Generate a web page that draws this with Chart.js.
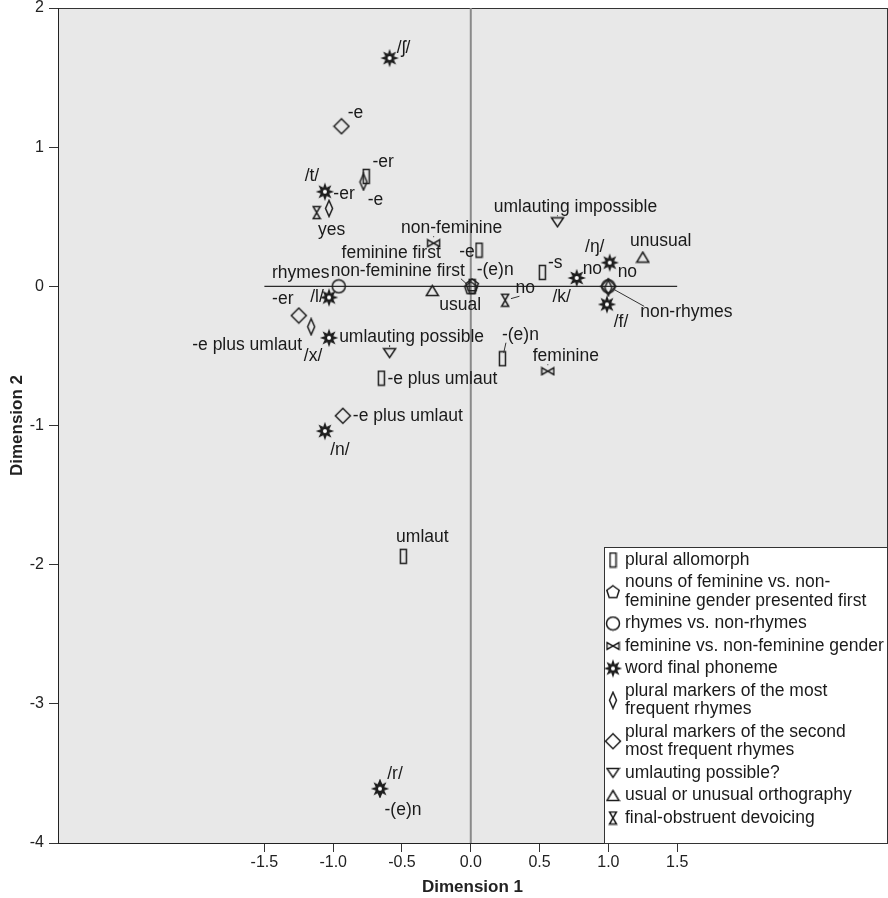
<!DOCTYPE html>
<html>
<head>
<meta charset="utf-8">
<script src="https://cdn.jsdelivr.net/npm/chart.js@4.4.0/dist/chart.umd.min.js"></script>
<style>
html, body { margin: 0; padding: 0; background: #fff; }
</style>
</head>
<body>
<canvas id="chart" width="888" height="898"></canvas>
<script>
var xTicks = [-1.5, -1.0, -0.5, 0.0, 0.5, 1.0, 1.5];
var yTicks = [-4, -3, -2, -1, 0, 1, 2];

// plural allomorph
var allomorphX = [-0.76, 0.06, 0.01, 0.52, 0.23, -0.65, -0.49];
var allomorphY = [0.79, 0.26, 0.00, 0.10, -0.52, -0.66, -1.94];
var allomorphLabels = ['-er', '-e', '-(e)n', '-s', '-(e)n', '-e plus umlaut', 'umlaut'];

// nouns of feminine vs. non-feminine gender presented first
var firstX = [0.01, 0.00];
var firstY = [0.01, -0.01];
var firstLabels = ['feminine first', 'non-feminine first'];

// rhymes vs. non-rhymes
var rhymesX = [-0.96, 1.00];
var rhymesY = [0.00, 0.00];
var rhymesLabels = ['rhymes', 'non-rhymes'];

// feminine vs. non-feminine gender
var genderX = [-0.27, 0.56];
var genderY = [0.31, -0.61];
var genderLabels = ['non-feminine', 'feminine'];

// word final phoneme
var phonemeX = [-0.59, -1.06, -1.03, -1.03, -1.06, -0.66, 0.77, 1.01, 0.99];
var phonemeY = [1.64, 0.68, -0.08, -0.37, -1.04, -3.61, 0.06, 0.17, -0.13];
var phonemeLabels = ['/ʃ/', '/t/', '/l/', '/x/', '/n/', '/r/', '/k/', '/ŋ/', '/f/'];

// plural markers of the most frequent rhymes
var mostX = [-0.78, -1.03, -1.16, 1.00, -0.66];
var mostY = [0.75, 0.56, -0.29, -0.01, -3.61];
var mostLabels = ['-e', '-er', '-e plus umlaut', 'no', '-(e)n'];

// plural markers of the second most frequent rhymes
var secondX = [-0.94, -1.25, -0.93, 1.00];
var secondY = [1.15, -0.21, -0.93, 0.00];
var secondLabels = ['-e', '-er', '-e plus umlaut', 'no'];

// umlauting possible?
var umlautX = [-0.59, 0.63];
var umlautY = [-0.48, 0.46];
var umlautLabels = ['umlauting possible', 'umlauting impossible'];

// usual or unusual orthography
var orthoX = [-0.28, 1.25];
var orthoY = [-0.03, 0.21];
var orthoLabels = ['usual', 'unusual'];

// final-obstruent devoicing
var devoiceX = [-1.12, 0.25];
var devoiceY = [0.53, -0.10];
var devoiceLabels = ['yes', 'no'];

// label placement (pixel offset of label centre from point, 1 = leader line)
var allomorphPos = [[17, -14], [-12, 2], [23, -16], [13, -9], [18, -24, 1], [61, 1], [19, -19]];
var firstPos = [[-81, -32], [-73, -17, 1]];
var rhymesPos = [[-38, -13], [78, 26, 1]];
var genderPos = [[18, -15, 1], [18, -15, 1]];
var phonemePos = [[14, -10], [-13, -16], [-12, 0], [-16, 18], [15, 19], [15, -15], [-15, 19], [-15, -16], [14, 18]];
var mostPos = [[12, 18], [15, -14], [-64, 18], [-16, -19], [23, 21]];
var secondPos = [[14, -13], [-16, -16], [65, 0], [19, -14]];
var umlautPos = [[22, -16, 1], [18, -15, 1]];
var orthoPos = [[28, 15], [18, -16]];
var devoicePos = [[15, 18], [20, -12, 1]];

var FONT = '"Liberation Sans", Arial, sans-serif';

function icon(w, h, draw) {
  var c = document.createElement('canvas');
  c.width = w;
  c.height = h;
  var g = c.getContext('2d');
  g.strokeStyle = '#1e1e1e';
  g.fillStyle = '#1e1e1e';
  g.lineWidth = 1.5;
  draw(g);
  return c;
}

function poly(g, p, fill) {
  g.beginPath();
  g.moveTo(p[0][0], p[0][1]);
  for (var i = 1; i < p.length; i++) g.lineTo(p[i][0], p[i][1]);
  g.closePath();
  if (fill) g.fill(); else g.stroke();
}

var rectIcon = icon(9, 17, function(g) { g.strokeRect(1.5, 1.5, 6, 14); });
var pentIcon = icon(16, 16, function(g) {
  var p = [];
  for (var k = 0; k < 5; k++) {
    var a = -Math.PI / 2 + k * 2 * Math.PI / 5;
    p.push([8 + 6.5 * Math.cos(a), 8.5 + 6.5 * Math.sin(a)]);
  }
  poly(g, p);
});
var circleIcon = icon(16, 16, function(g) {
  g.beginPath(); g.arc(8, 8, 6.5, 0, 2 * Math.PI); g.stroke();
});
var bowIcon = icon(15, 10, function(g) {
  poly(g, [[1.5, 1.5], [1.5, 8.5], [7.5, 5]]);
  poly(g, [[13.5, 1.5], [13.5, 8.5], [7.5, 5]]);
});
var starIcon = icon(20, 20, function(g) {
  var p = [];
  for (var k = 0; k < 16; k++) {
    var a = k * Math.PI / 8 - Math.PI / 2;
    var r = k % 2 ? 4.6 : 9.2;
    p.push([10 + r * Math.cos(a), 10 + r * Math.sin(a)]);
  }
  poly(g, p, true);
  g.fillStyle = '#fff';
  g.beginPath(); g.arc(10, 10, 2, 0, 2 * Math.PI); g.fill();
});
var narrowIcon = icon(10, 19, function(g) { poly(g, [[5, 1.5], [8.5, 9.5], [5, 17.5], [1.5, 9.5]]); });
var diamondIcon = icon(18, 18, function(g) { poly(g, [[9, 1.5], [16.5, 9], [9, 16.5], [1.5, 9]]); });
var invTriIcon = icon(15, 12, function(g) { poly(g, [[1.5, 1.5], [13.5, 1.5], [7.5, 10.5]]); });
var triIcon = icon(15, 13, function(g) { poly(g, [[7.5, 1.5], [13.5, 11.5], [1.5, 11.5]]); });
var hourIcon = icon(10, 15, function(g) {
  poly(g, [[1.5, 1.5], [8.5, 1.5], [5, 7.5]]);
  poly(g, [[1.5, 13.5], [8.5, 13.5], [5, 7.5]]);
});

var legendItems = [
  [rectIcon, ['plural allomorph']],
  [pentIcon, ['nouns of feminine vs. non-', 'feminine gender presented first']],
  [circleIcon, ['rhymes vs. non-rhymes']],
  [bowIcon, ['feminine vs. non-feminine gender']],
  [starIcon, ['word final phoneme']],
  [narrowIcon, ['plural markers of the most', 'frequent rhymes']],
  [diamondIcon, ['plural markers of the second', 'most frequent rhymes']],
  [invTriIcon, ['umlauting possible?']],
  [triIcon, ['usual or unusual orthography']],
  [hourIcon, ['final-obstruent devoicing']]
];

function pts(xs, ys) {
  return xs.map(function(x, i) { return { x: x, y: ys[i] }; });
}

function series(xs, ys, labels, pos, style) {
  return {
    data: pts(xs, ys),
    pointLabels: labels,
    labelPos: pos,
    pointStyle: style,
    pointRadius: 6,
    order: 0
  };
}

var bgPlugin = {
  id: 'plotBg',
  beforeDraw: function(chart) {
    var ctx = chart.ctx, a = chart.chartArea;
    ctx.save();
    ctx.fillStyle = '#fff';
    ctx.fillRect(0, 0, chart.width, chart.height);
    ctx.fillStyle = '#e8e8e8';
    ctx.fillRect(a.left, a.top, a.right - a.left, a.bottom - a.top);
    ctx.strokeStyle = '#333';
    ctx.lineWidth = 1;
    ctx.strokeRect(a.left + 0.5, a.top + 0.5, a.right - a.left, a.bottom - a.top);
    ctx.restore();
  }
};

var labelPlugin = {
  id: 'pointLabels',
  afterDatasetsDraw: function(chart) {
    var ctx = chart.ctx;
    ctx.save();
    ctx.font = '17.5px ' + FONT;
    ctx.fillStyle = '#1a1a1a';
    ctx.strokeStyle = '#333';
    ctx.lineWidth = 1;
    ctx.textAlign = 'center';
    ctx.textBaseline = 'middle';
    chart.data.datasets.forEach(function(ds, i) {
      if (!ds.pointLabels) return;
      var meta = chart.getDatasetMeta(i);
      meta.data.forEach(function(pt, j) {
        var off = ds.labelPos[j];
        var text = ds.pointLabels[j];
        var lx = pt.x + off[0], ly = pt.y + off[1];
        ctx.fillText(text, lx, ly);
        if (off[2]) {
          var hw = ctx.measureText(text).width / 2;
          var bx = Math.max(lx - hw + 4, Math.min(pt.x, lx + hw - 4));
          var by = Math.max(ly - 6, Math.min(pt.y, ly + 8));
          var dx = bx - pt.x, dy = by - pt.y;
          var d = Math.sqrt(dx * dx + dy * dy) || 1;
          ctx.beginPath();
          ctx.moveTo(pt.x + dx / d * 6, pt.y + dy / d * 6);
          ctx.lineTo(bx, by);
          ctx.stroke();
        }
      });
    });
    ctx.restore();
  }
};

var legendPlugin = {
  id: 'boxLegend',
  afterDraw: function(chart) {
    var ctx = chart.ctx, a = chart.chartArea;
    var left = 604, top = 547;
    ctx.save();
    ctx.fillStyle = '#fff';
    ctx.fillRect(left, top, a.right - left, a.bottom - top);
    ctx.strokeStyle = '#333';
    ctx.lineWidth = 1;
    ctx.strokeRect(left + 0.5, top + 0.5, a.right - left, a.bottom - top);
    ctx.font = '17.5px ' + FONT;
    ctx.fillStyle = '#1a1a1a';
    ctx.textBaseline = 'middle';
    ctx.textAlign = 'left';
    var y = 560;
    legendItems.forEach(function(item) {
      var lines = item[1];
      var iconY = y + (lines.length - 1) * 18.5 / 2;
      ctx.drawImage(item[0], 613 - item[0].width / 2, iconY - item[0].height / 2);
      lines.forEach(function(t, k) {
        ctx.fillText(t, 625, y + k * 18.5);
      });
      y += (lines.length - 1) * 18.5 + 22.5;
    });
    ctx.restore();
  }
};

new Chart(document.getElementById('chart'), {
  type: 'scatter',
  data: {
    datasets: [
      { data: [{ x: 0, y: -4 }, { x: 0, y: 2 }], showLine: true, borderColor: '#8a8a8a', borderWidth: 2, pointRadius: 0, order: 5 },
      { data: [{ x: -1.5, y: 0 }, { x: 1.5, y: 0 }], showLine: true, borderColor: '#2a2a2a', borderWidth: 1.2, pointRadius: 0, order: 4 },
      series(phonemeX, phonemeY, phonemeLabels, phonemePos, starIcon),
      series(rhymesX, rhymesY, rhymesLabels, rhymesPos, circleIcon),
      series(firstX, firstY, firstLabels, firstPos, pentIcon),
      series(allomorphX, allomorphY, allomorphLabels, allomorphPos, rectIcon),
      series(genderX, genderY, genderLabels, genderPos, bowIcon),
      series(mostX, mostY, mostLabels, mostPos, narrowIcon),
      series(secondX, secondY, secondLabels, secondPos, diamondIcon),
      series(umlautX, umlautY, umlautLabels, umlautPos, invTriIcon),
      series(orthoX, orthoY, orthoLabels, orthoPos, triIcon),
      series(devoiceX, devoiceY, devoiceLabels, devoicePos, hourIcon)
    ]
  },
  options: {
    responsive: false,
    animation: false,
    layout: { autoPadding: false, padding: { top: 8, right: 1, left: 0, bottom: 0 } },
    plugins: { legend: { display: false }, tooltip: { enabled: false } },
    scales: {
      x: {
        type: 'linear',
        min: -3,
        max: 3.025,
        afterBuildTicks: function(scale) {
          scale.ticks = xTicks.map(function(v) { return { value: v }; });
        },
        afterFit: function(scale) {
          scale.height = 55;
          scale.paddingLeft = 0;
          scale.paddingRight = 0;
        },
        grid: { drawOnChartArea: false, color: '#333', tickLength: 9 },
        border: { color: '#222', width: 1 },
        ticks: {
          autoSkip: false,
          maxRotation: 0,
          padding: 1,
          color: '#222',
          font: { family: FONT, size: 16 },
          callback: function(v) { return Number(v).toFixed(1); }
        },
        title: {
          display: true,
          text: 'Dimension 1',
          color: '#222',
          padding: { top: 0, bottom: 0 },
          font: { family: FONT, size: 17, weight: 'bold' }
        }
      },
      y: {
        type: 'linear',
        min: -4,
        max: 2,
        afterBuildTicks: function(scale) {
          scale.ticks = yTicks.map(function(v) { return { value: v }; });
        },
        afterFit: function(scale) {
          scale.width = 58;
          scale.paddingTop = 0;
          scale.paddingBottom = 0;
        },
        grid: { drawOnChartArea: false, color: '#333', tickLength: 9 },
        border: { color: '#222', width: 1 },
        ticks: {
          padding: 5,
          color: '#222',
          font: { family: FONT, size: 16 }
        },
        title: {
          display: true,
          text: 'Dimension 2',
          color: '#222',
          padding: { top: 7, bottom: 0 },
          font: { family: FONT, size: 17, weight: 'bold' }
        }
      }
    }
  },
  plugins: [bgPlugin, labelPlugin, legendPlugin]
});
</script>
</body>
</html>
